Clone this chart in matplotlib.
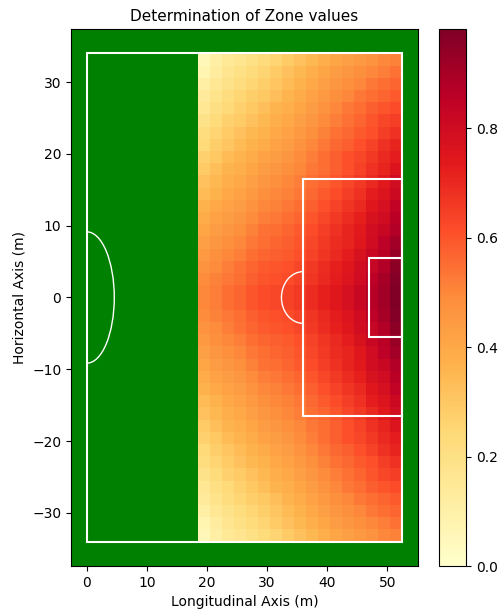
import numpy as np
import matplotlib
matplotlib.use("Agg")
import matplotlib.pyplot as plt
from matplotlib.patches import Rectangle, Arc

# Zone values, 17 columns (x from 18.5 to 52.5 m, 2 m wide) x 40 rows (y from -34 to 34 m, 1.7 m tall)
# rows listed from bottom (y=-34) to top (y=34)
zone_values = [
    [0.06, 0.11, 0.15, 0.17, 0.20, 0.23, 0.26, 0.29, 0.32, 0.35, 0.38, 0.41, 0.43, 0.45, 0.47, 0.50, 0.51],
    [0.08, 0.13, 0.17, 0.20, 0.23, 0.26, 0.29, 0.32, 0.35, 0.38, 0.41, 0.44, 0.46, 0.48, 0.50, 0.52, 0.54],
    [0.11, 0.16, 0.19, 0.22, 0.25, 0.28, 0.31, 0.34, 0.37, 0.40, 0.43, 0.46, 0.48, 0.50, 0.53, 0.55, 0.57],
    [0.14, 0.18, 0.22, 0.25, 0.28, 0.30, 0.33, 0.36, 0.39, 0.42, 0.45, 0.48, 0.50, 0.53, 0.55, 0.57, 0.59],
    [0.16, 0.21, 0.24, 0.27, 0.30, 0.33, 0.36, 0.38, 0.41, 0.44, 0.47, 0.50, 0.53, 0.55, 0.58, 0.60, 0.62],
    [0.19, 0.23, 0.27, 0.29, 0.32, 0.35, 0.38, 0.40, 0.43, 0.46, 0.49, 0.52, 0.54, 0.57, 0.60, 0.63, 0.65],
    [0.22, 0.26, 0.29, 0.32, 0.35, 0.37, 0.40, 0.42, 0.45, 0.48, 0.51, 0.54, 0.56, 0.59, 0.61, 0.65, 0.68],
    [0.24, 0.28, 0.31, 0.34, 0.37, 0.39, 0.42, 0.44, 0.47, 0.50, 0.53, 0.56, 0.58, 0.61, 0.64, 0.68, 0.71],
    [0.27, 0.30, 0.34, 0.36, 0.39, 0.42, 0.44, 0.46, 0.49, 0.52, 0.55, 0.58, 0.61, 0.63, 0.66, 0.70, 0.73],
    [0.29, 0.33, 0.36, 0.38, 0.41, 0.44, 0.46, 0.48, 0.50, 0.53, 0.55, 0.58, 0.61, 0.64, 0.68, 0.71, 0.76],
    [0.32, 0.35, 0.38, 0.40, 0.43, 0.46, 0.48, 0.50, 0.52, 0.55, 0.57, 0.60, 0.63, 0.66, 0.70, 0.74, 0.79],
    [0.34, 0.37, 0.40, 0.42, 0.45, 0.48, 0.50, 0.51, 0.53, 0.56, 0.59, 0.62, 0.65, 0.68, 0.73, 0.76, 0.81],
    [0.37, 0.40, 0.42, 0.44, 0.47, 0.50, 0.51, 0.53, 0.55, 0.58, 0.61, 0.64, 0.67, 0.70, 0.75, 0.78, 0.84],
    [0.39, 0.42, 0.44, 0.46, 0.49, 0.52, 0.53, 0.55, 0.57, 0.60, 0.63, 0.66, 0.69, 0.72, 0.77, 0.80, 0.86],
    [0.41, 0.44, 0.46, 0.48, 0.51, 0.54, 0.55, 0.57, 0.59, 0.62, 0.65, 0.68, 0.71, 0.74, 0.79, 0.82, 0.88],
    [0.43, 0.46, 0.48, 0.50, 0.53, 0.55, 0.57, 0.58, 0.60, 0.63, 0.66, 0.69, 0.71, 0.75, 0.80, 0.85, 0.91],
    [0.45, 0.48, 0.50, 0.52, 0.55, 0.57, 0.58, 0.59, 0.61, 0.64, 0.67, 0.70, 0.73, 0.77, 0.82, 0.86, 0.93],
    [0.47, 0.49, 0.52, 0.54, 0.57, 0.59, 0.60, 0.61, 0.63, 0.66, 0.69, 0.72, 0.75, 0.79, 0.83, 0.88, 0.95],
    [0.49, 0.51, 0.53, 0.55, 0.58, 0.60, 0.61, 0.62, 0.64, 0.67, 0.70, 0.73, 0.76, 0.80, 0.85, 0.90, 0.97],
    [0.50, 0.52, 0.55, 0.57, 0.60, 0.62, 0.63, 0.64, 0.66, 0.69, 0.72, 0.75, 0.78, 0.82, 0.87, 0.91, 0.98],
    [0.50, 0.52, 0.55, 0.57, 0.60, 0.62, 0.63, 0.64, 0.66, 0.69, 0.72, 0.75, 0.78, 0.82, 0.87, 0.91, 0.98],
    [0.49, 0.51, 0.53, 0.55, 0.58, 0.60, 0.61, 0.62, 0.64, 0.67, 0.70, 0.73, 0.76, 0.80, 0.85, 0.90, 0.97],
    [0.47, 0.49, 0.52, 0.54, 0.57, 0.59, 0.60, 0.61, 0.63, 0.66, 0.69, 0.72, 0.75, 0.79, 0.83, 0.88, 0.95],
    [0.45, 0.48, 0.50, 0.52, 0.55, 0.57, 0.58, 0.59, 0.61, 0.64, 0.67, 0.70, 0.73, 0.77, 0.82, 0.86, 0.93],
    [0.43, 0.46, 0.48, 0.50, 0.53, 0.55, 0.57, 0.58, 0.60, 0.63, 0.66, 0.69, 0.71, 0.75, 0.80, 0.85, 0.91],
    [0.41, 0.44, 0.46, 0.48, 0.51, 0.54, 0.55, 0.57, 0.59, 0.62, 0.65, 0.68, 0.71, 0.74, 0.79, 0.82, 0.88],
    [0.39, 0.42, 0.44, 0.46, 0.49, 0.52, 0.53, 0.55, 0.57, 0.60, 0.63, 0.66, 0.69, 0.72, 0.77, 0.80, 0.86],
    [0.37, 0.40, 0.42, 0.44, 0.47, 0.50, 0.51, 0.53, 0.55, 0.58, 0.61, 0.64, 0.67, 0.70, 0.75, 0.78, 0.84],
    [0.34, 0.37, 0.40, 0.42, 0.45, 0.48, 0.50, 0.51, 0.53, 0.56, 0.59, 0.62, 0.65, 0.68, 0.73, 0.76, 0.81],
    [0.32, 0.35, 0.38, 0.40, 0.43, 0.46, 0.48, 0.50, 0.52, 0.55, 0.57, 0.60, 0.63, 0.66, 0.70, 0.74, 0.79],
    [0.29, 0.33, 0.36, 0.38, 0.41, 0.44, 0.46, 0.48, 0.50, 0.53, 0.55, 0.58, 0.61, 0.64, 0.68, 0.71, 0.76],
    [0.27, 0.30, 0.34, 0.36, 0.39, 0.42, 0.44, 0.46, 0.49, 0.52, 0.55, 0.58, 0.61, 0.63, 0.66, 0.70, 0.73],
    [0.24, 0.28, 0.31, 0.34, 0.37, 0.39, 0.42, 0.44, 0.47, 0.50, 0.53, 0.56, 0.58, 0.61, 0.64, 0.68, 0.71],
    [0.22, 0.26, 0.29, 0.32, 0.35, 0.37, 0.40, 0.42, 0.45, 0.48, 0.51, 0.54, 0.56, 0.59, 0.61, 0.65, 0.68],
    [0.19, 0.23, 0.27, 0.29, 0.32, 0.35, 0.38, 0.40, 0.43, 0.46, 0.49, 0.52, 0.54, 0.57, 0.60, 0.63, 0.65],
    [0.16, 0.21, 0.24, 0.27, 0.30, 0.33, 0.36, 0.38, 0.41, 0.44, 0.47, 0.50, 0.53, 0.55, 0.58, 0.60, 0.62],
    [0.14, 0.18, 0.22, 0.25, 0.28, 0.30, 0.33, 0.36, 0.39, 0.42, 0.45, 0.48, 0.50, 0.53, 0.55, 0.57, 0.59],
    [0.11, 0.16, 0.19, 0.22, 0.25, 0.28, 0.31, 0.34, 0.37, 0.40, 0.43, 0.46, 0.48, 0.50, 0.53, 0.55, 0.57],
    [0.08, 0.13, 0.17, 0.20, 0.23, 0.26, 0.29, 0.32, 0.35, 0.38, 0.41, 0.44, 0.46, 0.48, 0.50, 0.52, 0.54],
    [0.06, 0.11, 0.15, 0.17, 0.20, 0.23, 0.26, 0.29, 0.32, 0.35, 0.38, 0.41, 0.43, 0.45, 0.47, 0.50, 0.51],
]

x_ticks = [0, 10, 20, 30, 40, 50]
y_ticks = [-30, -20, -10, 0, 10, 20, 30]
cbar_ticks = [0.0, 0.2, 0.4, 0.6, 0.8]

Z = np.array(zone_values)
n_rows, n_cols = Z.shape
x_edges = np.linspace(18.5, 52.5, n_cols + 1)
y_edges = np.linspace(-34, 34, n_rows + 1)

fig = plt.figure(figsize=(4.98, 6.12), dpi=100)
ax = fig.add_axes([0.1426, 0.0752, 0.6968, 0.8774])
cax = fig.add_axes([0.8815, 0.0745, 0.0542, 0.8775])

ax.set_facecolor("green")
mesh = ax.pcolormesh(x_edges, y_edges, Z, cmap="YlOrRd", vmin=0, vmax=Z.max(),
                     shading="flat")

lc = "white"
ax.add_patch(Rectangle((0, -34), 52.5, 68, fill=False, edgecolor=lc, lw=1.5, zorder=3))
ax.add_patch(Rectangle((36, -16.5), 16.5, 33, fill=False, edgecolor=lc, lw=1.5, zorder=3))
ax.add_patch(Rectangle((47, -5.5), 5.5, 11, fill=False, edgecolor=lc, lw=1.5, zorder=3))
ax.add_patch(Arc((0, 0), 9.15, 18.3, theta1=-90, theta2=90, edgecolor=lc, lw=1.0, zorder=3))
ax.add_patch(Arc((36, 0), 7.2, 7.2, theta1=90, theta2=270, edgecolor=lc, lw=1.0, zorder=3))

ax.set_xlim(-2.625, 55.125)
ax.set_ylim(-37.4, 37.4)
ax.set_xticks(x_ticks)
ax.set_yticks(y_ticks)
ax.set_title("Determination of Zone values", fontsize=11)
ax.set_xlabel("Longitudinal Axis (m)")
ax.set_ylabel("Horizontal Axis (m)")

cb = fig.colorbar(mesh, cax=cax)
cb.set_ticks(cbar_ticks)

fig.savefig("out.png", dpi=100)
